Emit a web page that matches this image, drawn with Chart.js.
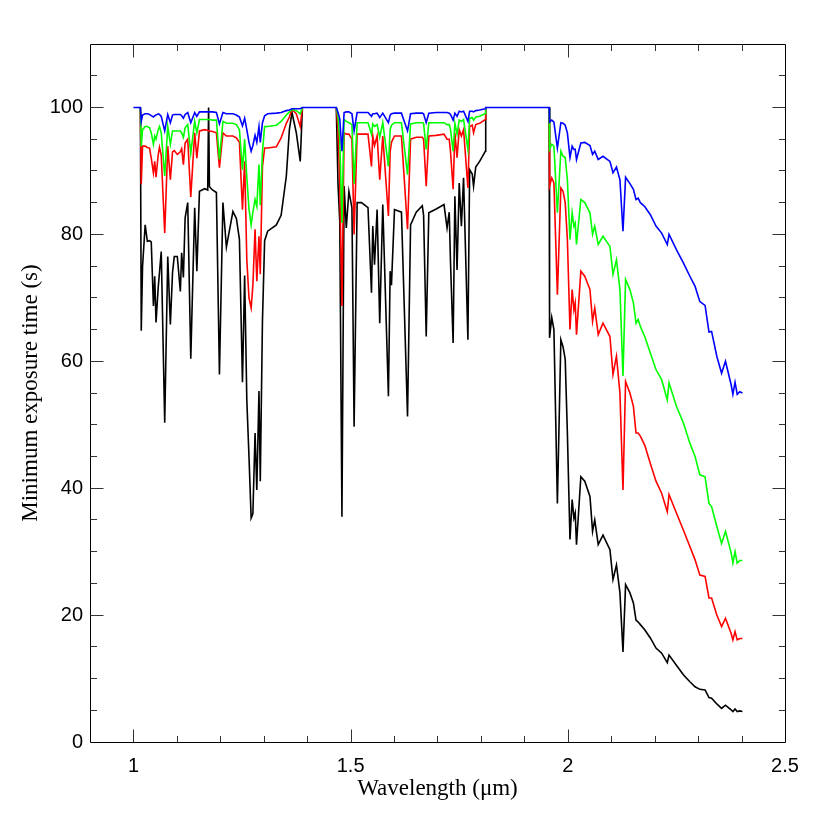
<!DOCTYPE html>
<html>
<head>
<meta charset="utf-8">
<script src="https://cdn.jsdelivr.net/npm/chart.js@4.4.1/dist/chart.umd.min.js"></script>
<style>
html,body{margin:0;padding:0;background:#fff;}
#wrap{width:830px;height:830px;}
</style>
</head>
<body>
<div id="wrap"><canvas id="c" width="830" height="830"></canvas></div>
<script>
// Wavelength grid (micron)
const wavelength = [
1.000,1.016,1.018,1.021,1.027,1.032,1.037,1.041,1.046,1.049,1.052,1.057,1.060,1.064,1.072,1.079,1.085,1.090,1.094,1.101,
1.108,1.111,1.115,1.119,1.125,1.132,1.141,1.146,1.152,1.164,1.171,1.173,1.175,1.182,1.191,1.198,1.206,1.214,1.229,1.237,
1.244,1.251,1.256,1.261,1.266,1.271,1.275,1.280,1.284,1.289,1.292,1.297,1.302,1.309,1.329,1.340,1.352,1.359,1.365,1.375,
1.384,1.389,
1.467,1.471,1.475,1.480,1.485,1.490,1.496,1.503,1.508,1.515,1.525,1.540,1.548,1.551,1.555,1.561,1.567,1.574,1.587,1.591,
1.594,1.601,1.617,1.631,1.638,1.651,1.665,1.668,1.674,1.680,1.697,1.715,1.722,1.727,1.730,1.736,1.740,1.745,1.750,1.755,
1.760,1.770,1.774,1.780,1.783,1.788,1.797,1.810,1.811,
1.957,1.958,1.963,1.968,1.976,1.984,1.989,1.994,1.999,2.005,2.010,2.014,2.017,2.020,2.030,2.039,2.051,2.057,2.062,2.070,
2.081,2.097,2.104,2.112,2.120,2.127,2.133,2.143,2.151,2.157,2.162,2.167,2.177,2.190,2.203,2.216,2.229,2.233,2.250,2.266,
2.281,2.293,2.304,2.316,2.325,2.331,2.343,2.354,2.363,2.376,2.380,2.385,2.390,2.396,2.402
];

const timeBlack = [
100,100,64.8,75.0,81.5,78.9,79.0,78.8,68.7,73.4,66.1,71.6,74.0,77.3,50.3,76.5,65.8,74.0,76.5,76.5,
71.0,77.1,73.2,82.6,85.0,60.4,84.2,74.2,86.8,87.2,87.0,100,87.5,87.0,86.6,57.9,85.0,78.0,83.6,82.5,
79.2,56.7,73.5,53.9,45.0,35.3,36.0,48.7,39.7,55.3,41.1,66.3,79.0,80.5,81.5,83.0,89.2,96.5,99.2,96.0,
91.5,100,
100,87.9,82.0,35.5,87.6,81.0,86.8,84.2,49.7,85.0,85.0,84.2,70.8,81.3,75.2,83.9,66.0,84.7,54.5,74.2,
72.0,83.9,83.5,51.3,81.5,83.5,84.5,83.0,63.9,83.4,84.0,84.7,81.0,83.5,75.5,62.9,86.0,74.4,88.1,81.3,
88.9,63.4,90.2,89.5,87.6,90.6,91.5,93.1,100,
100,63.7,66.9,65.0,37.6,63.4,62.3,60.3,48.7,31.9,38.2,35.3,36.1,31.1,41.8,41.1,38.7,33.2,35.0,31.1,
32.6,30.3,25.6,27.9,23.5,14.2,24.8,23.5,21.9,19.2,18.9,18.5,17.7,16.4,14.8,14.0,12.5,13.7,12.1,10.6,
9.5,8.7,8.3,8.2,7.0,6.9,6.0,5.3,5.8,5.05,4.8,5.2,4.8,4.9,4.8
];

const timeRed = [
100,100,87.9,93.9,93.9,93.7,93.6,92.0,89.7,91.5,89.0,92.5,93.7,92.5,80.2,93.9,88.6,93.0,93.2,92.6,
93.0,93.5,91.0,94.4,95.0,85.9,96.0,92.0,96.3,96.5,96.4,96.3,96.3,96.2,96.0,90.5,96.0,95.5,95.5,95.2,
94.5,83.9,91.5,76.0,70.0,68.4,72.0,80.8,72.6,79.7,73.7,90.7,93.6,93.6,93.8,95.2,97.5,98.5,99.7,99.0,
97.0,100,
100,96.5,88.0,68.7,96.0,95.8,95.8,95.0,80.0,95.8,95.8,95.8,90.7,95.5,94.0,95.5,88.6,95.5,82.9,93.0,
94.5,95.5,95.5,80.8,95.0,95.3,95.3,95.0,87.6,95.5,95.6,95.8,95.0,95.0,93.0,87.1,96.0,92.1,96.5,95.5,
96.5,87.3,97.0,97.2,96.0,97.3,97.5,98.1,100,
100,87.6,88.9,88.1,70.5,87.3,86.8,85.0,79.2,65.0,71.3,68.1,69.2,64.2,74.2,73.4,71.3,66.3,68.4,64.2,
66.0,63.9,57.9,60.8,55.0,39.7,56.8,55.0,52.9,48.7,48.7,48.2,46.8,43.9,41.1,39.2,36.3,39.0,36.1,33.4,
30.8,28.7,26.3,26.1,22.7,22.7,20.0,18.2,19.5,17.1,16.1,17.4,16.1,16.3,16.3
];

const timeGreen = [
100,100,93.9,96.5,97.0,97.0,96.8,96.0,94.2,95.5,95.0,96.5,97.0,96.0,89.2,97.0,94.2,96.3,96.3,96.3,
96.3,96.0,95.3,96.8,97.3,92.8,97.8,96.0,98.1,98.1,98.1,98.1,98.1,98.0,98.0,91.8,97.8,97.5,97.5,97.3,
96.5,90.2,95.0,89.0,84.0,81.5,83.5,85.5,84.4,91.0,84.6,93.0,97.0,97.0,97.2,97.8,98.8,99.3,99.7,99.5,
99.0,100,
100,98.5,95.0,81.8,98.1,97.8,97.6,97.3,88.0,97.6,97.6,97.6,95.8,97.4,97.0,97.3,95.3,97.6,90.7,96.5,
97.2,97.6,97.6,89.4,97.4,97.6,97.6,97.5,93.4,97.6,97.6,97.6,97.3,97.3,96.5,93.1,97.5,95.8,98.0,97.8,
98.1,93.4,98.3,98.4,98.0,98.5,98.6,99.05,100,
100,93.4,94.2,93.9,83.4,93.1,92.3,92.1,88.6,79.2,83.4,81.3,81.8,78.4,85.5,85.0,83.4,80.0,81.3,78.4,
79.7,78.1,73.7,76.0,71.3,57.7,72.9,71.3,69.2,66.0,66.6,65.5,63.9,61.3,58.7,57.1,53.9,56.6,52.9,50.3,
47.1,45.0,42.1,41.8,37.6,37.1,34.0,31.3,33.2,29.8,28.2,30.0,28.2,28.6,28.6
];

const timeBlue = [
100,100,97.8,98.8,99.0,99.0,98.9,98.7,98.5,98.7,98.8,99.0,98.9,98.6,96.3,98.9,97.6,98.8,98.9,98.9,
98.9,98.7,98.3,98.9,99.2,97.6,99.2,98.6,99.3,99.3,99.3,99.3,99.3,99.3,99.2,97.4,99.2,99.0,99.0,98.8,
98.5,97.1,98.3,96.5,94.5,93.1,94.0,95.6,94.5,97.0,94.5,97.6,98.7,99.0,99.1,99.2,99.5,99.6,99.8,99.8,
99.8,100,
100,99.2,98.2,93.1,99.2,99.3,99.3,99.0,96.3,99.2,99.2,99.2,98.6,99.0,99.0,99.1,98.4,99.1,97.6,98.8,
99.0,99.1,99.1,96.3,99.0,99.1,99.1,99.0,97.6,99.1,99.2,99.2,99.2,99.1,98.9,98.0,99.1,98.6,99.4,99.3,
99.4,97.8,99.4,99.4,99.3,99.5,99.6,99.8,100,
100,97.7,98.0,97.7,93.6,97.6,97.5,97.2,96.0,92.1,93.9,93.4,93.4,91.8,94.4,94.5,94.0,92.6,93.1,91.8,
92.3,91.5,89.7,90.6,88.6,80.5,89.0,88.0,87.1,85.5,85.7,85.0,84.4,83.1,81.3,80.2,78.4,80.0,77.6,75.5,
73.4,71.8,69.4,68.8,64.6,64.7,60.8,58.1,60.0,56.3,54.8,56.7,54.8,55.2,55.0
];

const xTickLabels = [1, 1.5, 2, 2.5];
const yTickLabels = [0, 20, 40, 60, 80, 100];
const xMinorStep = 0.1, yMinorStep = 5;

function pts(arr){ return wavelength.map((w,i)=>({x:w, y:arr[i]})); }

const frameTicks = {
  id:'frameTicks',
  afterDatasetsDraw(chart){
    const {ctx, chartArea:a, scales:{x, y}} = chart;
    ctx.save();
    ctx.strokeStyle = '#000';
    ctx.lineWidth = 1;
    const L0 = Math.round(a.left)+0.5, T0 = Math.round(a.top)+0.5;
    const R0 = Math.round(a.right)+0.5, B0 = Math.round(a.bottom)+0.5;
    ctx.beginPath();
    ctx.rect(L0, T0, R0-L0, B0-T0);
    ctx.stroke();
    ctx.strokeStyle = '#333';
    const MAJ = 13, MIN = 6.5;
    for (let k = 0; k <= 16; k++) {
      const v = +(x.min + k*xMinorStep).toFixed(3);
      if (v <= x.min || v >= x.max) continue;
      const major = Math.abs(v*2 - Math.round(v*2)) < 1e-6;
      const L = major ? MAJ : MIN;
      const px = Math.round(x.getPixelForValue(v)) + 0.5;
      ctx.beginPath();
      ctx.moveTo(px, B0); ctx.lineTo(px, B0 - L);
      ctx.moveTo(px, T0); ctx.lineTo(px, T0 + L);
      ctx.stroke();
    }
    for (let v = y.min + yMinorStep; v < y.max; v += yMinorStep) {
      const major = v % 20 === 0;
      const L = major ? MAJ : MIN;
      const py = Math.floor(y.getPixelForValue(v)) + 0.5;
      ctx.beginPath();
      ctx.moveTo(L0, py); ctx.lineTo(L0 + L, py);
      ctx.moveTo(R0, py); ctx.lineTo(R0 - L, py);
      ctx.stroke();
    }
    ctx.restore();
  }
};

// saturated stretches (value 100 at both ends) are shown only by the top (blue) curve
const hideSaturated = {borderColor: c => (c.p0.parsed.y >= 100 && c.p1.parsed.y >= 100) ? 'rgba(0,0,0,0)' : undefined};
const common = {fill:false, pointRadius:0, pointHoverRadius:0, borderWidth:1.6, tension:0};

new Chart(document.getElementById('c'), {
  type:'line',
  data:{
    datasets:[
      Object.assign({label:'blue', data:pts(timeBlue), borderColor:'#0000ff', order:0}, common),
      Object.assign({label:'green', data:pts(timeGreen), borderColor:'#00ff00', order:1, segment:hideSaturated}, common),
      Object.assign({label:'red', data:pts(timeRed), borderColor:'#ff0000', order:2, segment:hideSaturated}, common),
      Object.assign({label:'black', data:pts(timeBlack), borderColor:'#000000', order:3, segment:hideSaturated}, common)
    ]
  },
  options:{
    responsive:false,
    animation:false,
    devicePixelRatio:1,
    layout:{padding:{left:0, right:45, top:44, bottom:0}},
    plugins:{legend:{display:false}, tooltip:{enabled:false}},
    scales:{
      x:{
        type:'linear', min:0.9, max:2.5,
        grid:{display:false, drawTicks:false},
        border:{display:false},
        afterBuildTicks(s){ s.ticks = xTickLabels.map(v=>({value:v})); },
        afterFit(s){ s.height = 88; },
        ticks:{color:'#000', padding:14, maxRotation:0, autoSkip:false,
          font:{family:'"Liberation Sans", Arial, sans-serif', size:20, lineHeight:1},
          callback:(v)=>String(v)},
        title:{display:true, text:'Wavelength (\u03bcm)', color:'#000',
          font:{family:'"Liberation Serif", serif', size:23, lineHeight:1},
          padding:{top:0, bottom:30}}
      },
      y:{
        type:'linear', min:0, max:110,
        grid:{display:false, drawTicks:false},
        border:{display:false},
        afterBuildTicks(s){ s.ticks = yTickLabels.map(v=>({value:v})); },
        afterFit(s){ s.width = 90; },
        ticks:{color:'#000', padding:7, autoSkip:false,
          font:{family:'"Liberation Sans", Arial, sans-serif', size:20, lineHeight:1},
          callback:(v)=>String(v)},
        title:{display:true, text:'Minimum exposure time (s)', color:'#000',
          font:{family:'"Liberation Serif", serif', size:23, lineHeight:1},
          padding:{top:19, bottom:0}}
      }
    }
  },
  plugins:[frameTicks]
});
</script>
</body>
</html>
